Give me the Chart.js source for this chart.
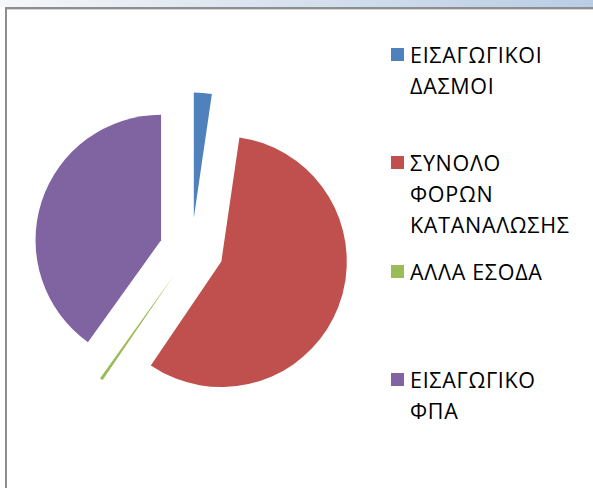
<!DOCTYPE html>
<html>
<head>
<meta charset="utf-8">
<script src="https://cdn.jsdelivr.net/npm/chart.js@4/dist/chart.umd.min.js"></script>
<style>
  html, body { margin:0; padding:0; background:#fff; }
  body { width:593px; height:488px; position:relative; overflow:hidden; font-family:"Open Sans", sans-serif; }
  #topbar { position:absolute; left:0; top:0; width:593px; height:7px;
    background:linear-gradient(to right, #f6f7f9 0%, #dfe7f1 35%, #b9cde5 100%); }
  #frame { position:absolute; left:5px; top:7px; width:600px; height:490px;
    border-left:2px solid #8e8e8e; border-top:2px solid #8e8e8e; box-sizing:border-box; background:#fff; }
  #frame::before { content:""; position:absolute; left:0; top:0; right:0; height:1px; background:#d4d4d4; }
  #chartbox { position:absolute; left:0; top:12px; width:383px; height:476px; }
  #legend { position:absolute; left:391px; top:39px; width:200px; }
  .entry { position:relative; height:108.3px; }
  .box { position:absolute; left:0; top:9px; width:13px; height:13px; }
  .txt { position:absolute; left:19px; top:0; font-size:21.5px; letter-spacing:0.7px; line-height:31px; color:#000; white-space:nowrap; }
</style>
</head>
<body>
<div id="topbar"></div>
<div id="frame"></div>
<div id="chartbox"><canvas id="c"></canvas></div>
<div id="legend"></div>
<script>
// Data
const categories = [
  ['ΕΙΣΑΓΩΓΙΚΟΙ', 'ΔΑΣΜΟΙ'],
  ['ΣΥΝΟΛΟ', 'ΦΟΡΩΝ', 'ΚΑΤΑΝΑΛΩΣΗΣ'],
  ['ΑΛΛΑ ΕΣΟΔΑ'],
  ['ΕΙΣΑΓΩΓΙΚΟ', 'ΦΠΑ']
];
const shares = [2.3, 57.2, 0.4, 40.1];
const colors = ['#4F81BD', '#C0504D', '#9BBB59', '#8064A2'];
const EXPLODE = 32;

const explodePlugin = {
  id: 'explode',
  afterDatasetsUpdate(chart) {
    chart.getDatasetMeta(0).data.forEach(arc => {
      const mid = (arc.startAngle + arc.endAngle) / 2;
      arc.x += Math.cos(mid) * EXPLODE;
      arc.y += Math.sin(mid) * EXPLODE;
    });
  }
};

new Chart(document.getElementById('c'), {
  type: 'pie',
  data: {
    labels: categories,
    datasets: [{
      data: shares,
      backgroundColor: colors,
      borderWidth: 0
    }]
  },
  options: {
    responsive: true,
    maintainAspectRatio: false,
    animation: false,
    radius: 125.5,
    layout: { padding: 0 },
    plugins: { legend: { display: false }, tooltip: { enabled: false } }
  },
  plugins: [explodePlugin]
});

// HTML legend
const legend = document.getElementById('legend');
categories.forEach((lines, i) => {
  const e = document.createElement('div');
  e.className = 'entry';
  const b = document.createElement('div');
  b.className = 'box';
  b.style.background = colors[i];
  const t = document.createElement('div');
  t.className = 'txt';
  t.innerHTML = lines.join('<br>');
  e.appendChild(b); e.appendChild(t);
  legend.appendChild(e);
});
</script>
</body>
</html>
